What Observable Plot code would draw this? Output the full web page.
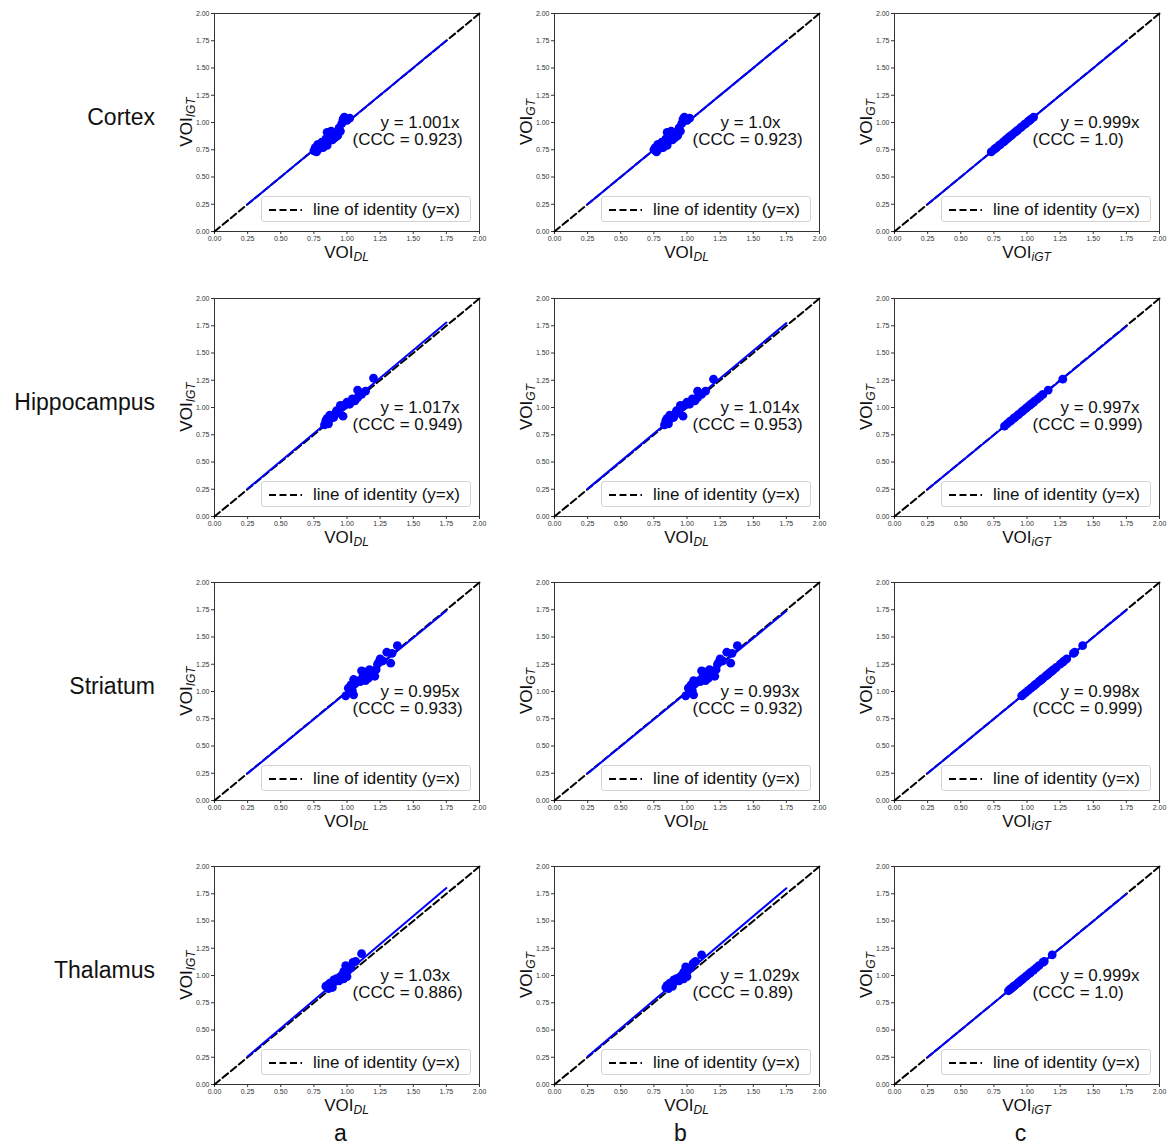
<!DOCTYPE html>
<html><head><meta charset="utf-8">
<script src="https://cdn.jsdelivr.net/npm/d3@7"></script>
<script src="https://cdn.jsdelivr.net/npm/@observablehq/plot@0.6"></script>
<style>
body{margin:0;background:#fff;}
#fig{position:relative;width:1176px;height:1148px;font-family:"Liberation Sans",Arial,Helvetica,sans-serif;color:#111;overflow:hidden;}
.lbl{position:absolute;white-space:nowrap;line-height:1;}
.ax{font-size:17px;}
.ax sub{font-size:12px;font-style:italic;vertical-align:-0.3em;line-height:0;}
.panel{position:absolute;}
.legend{position:absolute;box-sizing:border-box;border:1px solid #d4d4d4;border-radius:3px;background:rgba(255,255,255,0.8);font-size:17px;}
.legend svg{position:absolute;left:0;top:0;}
.legend span{position:absolute;left:51px;top:3px;white-space:nowrap;}
</style></head><body><div id="fig"></div>
<script>
// ---- data ----
const regions = ["Cortex", "Hippocampus", "Striatum", "Thalamus"];
const columns = ["a", "b", "c"];
const xSubs = ["DL", "DL", "iGT"];
const ySubs = ["IGT", "GT", "GT"];
const slopeLabels = [
  ["1.001", "1.0", "0.999"],
  ["1.017", "1.014", "0.997"],
  ["0.995", "0.993", "0.998"],
  ["1.03", "1.029", "0.999"]
];
const cccLabels = [
  ["0.923", "0.923", "1.0"],
  ["0.949", "0.953", "0.999"],
  ["0.933", "0.932", "0.999"],
  ["0.886", "0.89", "1.0"]
];
const axisTicks = [0, 0.25, 0.5, 0.75, 1, 1.25, 1.5, 1.75, 2];
const identityRange = [0, 2];
const fitRange = [0.25, 1.75];
const legendLabel = "line of identity (y=x)";

const cortexA = [[0.75,0.74],[0.76,0.77],[0.77,0.73],[0.78,0.80],[0.79,0.76],[0.81,0.82],[0.82,0.77],[0.83,0.80],[0.84,0.85],[0.85,0.79],[0.85,0.91],[0.86,0.83],[0.87,0.87],[0.88,0.92],[0.89,0.84],[0.90,0.89],[0.91,0.86],[0.92,0.91],[0.93,0.88],[0.94,0.95],[0.95,0.92],[0.96,0.99],[0.97,1.03],[0.98,1.05],[1.00,1.02],[1.02,1.04],[0.87,0.91],[0.81,0.79]];
const cortexB = [[0.75,0.75],[0.76,0.77],[0.77,0.73],[0.78,0.80],[0.79,0.76],[0.81,0.82],[0.82,0.77],[0.83,0.81],[0.84,0.85],[0.85,0.79],[0.85,0.91],[0.86,0.83],[0.87,0.87],[0.88,0.92],[0.89,0.84],[0.90,0.89],[0.91,0.86],[0.92,0.91],[0.93,0.88],[0.94,0.95],[0.95,0.92],[0.96,0.99],[0.97,1.03],[0.98,1.05],[1.00,1.02],[1.02,1.04],[0.87,0.91],[0.81,0.79]];
const cortexC = [[0.73,0.73],[0.75,0.75],[0.76,0.76],[0.77,0.77],[0.79,0.79],[0.80,0.80],[0.82,0.82],[0.83,0.83],[0.84,0.84],[0.85,0.85],[0.86,0.86],[0.87,0.87],[0.88,0.88],[0.89,0.89],[0.91,0.91],[0.92,0.92],[0.93,0.93],[0.95,0.95],[0.96,0.96],[0.98,0.98],[0.99,0.99],[1.01,1.01],[1.02,1.02],[1.03,1.03],[1.05,1.05]];
const hippoA = [[0.83,0.84],[0.84,0.86],[0.84,0.88],[0.85,0.90],[0.86,0.85],[0.86,0.89],[0.87,0.93],[0.88,0.90],[0.89,0.92],[0.90,0.91],[0.91,0.94],[0.92,0.97],[0.93,0.95],[0.95,0.99],[0.95,1.02],[0.97,0.92],[0.98,1.02],[0.99,1.03],[1.00,1.05],[1.02,1.03],[1.04,1.08],[1.06,1.06],[1.08,1.09],[1.08,1.16],[1.11,1.12],[1.14,1.15],[1.20,1.27]];
const hippoB = [[0.83,0.84],[0.84,0.86],[0.84,0.88],[0.85,0.90],[0.86,0.85],[0.86,0.89],[0.87,0.93],[0.88,0.90],[0.89,0.92],[0.90,0.91],[0.91,0.94],[0.92,0.97],[0.93,0.95],[0.95,0.99],[0.95,1.02],[0.97,0.92],[0.98,1.02],[0.99,1.03],[1.00,1.05],[1.02,1.03],[1.04,1.08],[1.06,1.06],[1.08,1.09],[1.08,1.15],[1.11,1.12],[1.14,1.15],[1.20,1.26]];
const hippoC = [[0.83,0.83],[0.85,0.85],[0.87,0.87],[0.88,0.88],[0.90,0.90],[0.91,0.91],[0.93,0.93],[0.94,0.94],[0.96,0.96],[0.97,0.97],[0.99,0.99],[1.00,1.00],[1.02,1.02],[1.03,1.03],[1.04,1.04],[1.05,1.05],[1.06,1.06],[1.08,1.08],[1.10,1.10],[1.12,1.12],[1.16,1.16],[1.27,1.26]];
const striatA = [[0.99,0.96],[1.01,1.03],[1.03,1.06],[1.04,1.01],[1.05,0.97],[1.05,1.11],[1.06,1.07],[1.09,1.10],[1.10,1.09],[1.11,1.19],[1.12,1.14],[1.13,1.18],[1.14,1.10],[1.15,1.16],[1.16,1.12],[1.17,1.20],[1.18,1.14],[1.20,1.18],[1.21,1.14],[1.22,1.20],[1.23,1.25],[1.24,1.27],[1.25,1.30],[1.27,1.28],[1.30,1.36],[1.33,1.26],[1.34,1.35],[1.38,1.42]];
const striatB = [[0.99,0.96],[1.01,1.03],[1.03,1.06],[1.04,1.01],[1.05,0.97],[1.05,1.10],[1.06,1.07],[1.09,1.10],[1.10,1.09],[1.11,1.19],[1.12,1.14],[1.13,1.18],[1.14,1.10],[1.15,1.16],[1.16,1.12],[1.17,1.20],[1.18,1.14],[1.20,1.18],[1.21,1.14],[1.22,1.20],[1.23,1.25],[1.24,1.27],[1.25,1.30],[1.27,1.28],[1.30,1.36],[1.33,1.26],[1.34,1.35],[1.38,1.42]];
const striatC = [[0.96,0.96],[0.97,0.97],[0.99,0.99],[1.01,1.01],[1.03,1.03],[1.05,1.05],[1.06,1.06],[1.07,1.07],[1.09,1.09],[1.10,1.10],[1.11,1.11],[1.12,1.12],[1.14,1.14],[1.15,1.15],[1.16,1.16],[1.17,1.17],[1.18,1.18],[1.19,1.19],[1.20,1.20],[1.22,1.22],[1.25,1.25],[1.27,1.27],[1.28,1.28],[1.30,1.30],[1.35,1.35],[1.36,1.36],[1.42,1.42]];
const thalA = [[0.84,0.90],[0.85,0.91],[0.86,0.88],[0.87,0.93],[0.89,0.89],[0.90,0.96],[0.91,0.945],[0.92,0.97],[0.94,0.95],[0.95,0.99],[0.96,1.00],[0.975,0.97],[0.975,1.035],[0.99,1.09],[1.00,0.99],[1.01,1.05],[1.03,1.07],[1.045,1.12],[1.065,1.13],[1.11,1.20]];
const thalB = [[0.84,0.89],[0.85,0.91],[0.86,0.88],[0.87,0.93],[0.89,0.90],[0.90,0.96],[0.91,0.945],[0.92,0.97],[0.94,0.95],[0.95,0.99],[0.96,1.00],[0.975,0.97],[0.975,1.03],[0.99,1.08],[1.00,0.99],[1.01,1.05],[1.03,1.07],[1.045,1.11],[1.065,1.13],[1.11,1.19]];
const thalC = [[0.86,0.86],[0.87,0.87],[0.88,0.88],[0.89,0.89],[0.90,0.90],[0.91,0.91],[0.93,0.93],[0.94,0.94],[0.95,0.95],[0.96,0.96],[0.97,0.97],[0.99,0.99],[1.00,1.00],[1.02,1.02],[1.03,1.03],[1.05,1.05],[1.07,1.07],[1.09,1.09],[1.12,1.12],[1.13,1.13],[1.19,1.19]];

const panelPoints = [
  [cortexA, cortexB, cortexC],
  [hippoA, hippoB, hippoC],
  [striatA, striatB, striatC],
  [thalA, thalB, thalC]
];

// ---- layout ----
const colLeft = [214, 554, 894];
const rowTop = [13, 298, 582, 866];
const plotW = 265, plotH = 218;
const mL = 34, mR = 12, mT = 8, mB = 16;
const BLUE = "#0000ff";
const FONT = '"Liberation Sans", Arial, Helvetica, sans-serif';

const fig = document.getElementById("fig");
function addLabel(html, cls, style) {
  const d = document.createElement("div");
  d.className = "lbl " + (cls || "");
  d.innerHTML = html;
  Object.assign(d.style, style);
  fig.appendChild(d);
  return d;
}

regions.forEach((region, r) => {
  columns.forEach((col, c) => {
    const pts = panelPoints[r][c];
    const slope = +slopeLabels[r][c];
    const identity = identityRange.map(v => ({x: v, y: v}));
    const fit = fitRange.map(v => ({x: v, y: slope * v}));
    const chart = Plot.plot({
      width: plotW + mL + mR,
      height: plotH + mT + mB,
      marginLeft: mL, marginRight: mR, marginTop: mT, marginBottom: mB,
      x: {domain: [0, 2], ticks: axisTicks, tickFormat: d3.format(".2f"), label: null, tickSize: 3, tickPadding: 2},
      y: {domain: [0, 2], ticks: axisTicks, tickFormat: d3.format(".2f"), label: null, tickSize: 3, tickPadding: 2},
      style: {fontSize: "7px", fontFamily: FONT, color: "#333", background: "transparent", overflow: "visible"},
      marks: [
        Plot.frame({stroke: "#333", strokeWidth: 1}),
        Plot.line(identity, {x: "x", y: "y", stroke: "black", strokeWidth: 2, strokeDasharray: "7,3.5"}),
        Plot.line(fit, {x: "x", y: "y", stroke: BLUE, strokeWidth: 2}),
        Plot.dot(pts, {x: d => d[0], y: d => d[1], r: 4.4, fill: BLUE, stroke: "none"}),
        Plot.text([`y = ${slopeLabels[r][c]}x`], {frameAnchor: "top-left", dx: 166, dy: 109, text: d => d, fontSize: 17, textAnchor: "start", lineAnchor: "middle", fill: "#111"}),
        Plot.text([`(CCC = ${cccLabels[r][c]})`], {frameAnchor: "top-left", dx: 138, dy: 126, text: d => d, fontSize: 17, textAnchor: "start", lineAnchor: "middle", fill: "#111"})
      ]
    });
    chart.classList.add("panel");
    chart.style.left = (colLeft[c] - mL) + "px";
    chart.style.top = (rowTop[r] - mT) + "px";
    fig.appendChild(chart);

    // legend
    const lg = document.createElement("div");
    lg.className = "legend";
    Object.assign(lg.style, {left: (colLeft[c] + 47) + "px", top: (rowTop[r] + 183) + "px", width: "210px", height: "26px"});
    lg.innerHTML = `<svg width="46" height="26"><line x1="7" x2="40" y1="13" y2="13" stroke="black" stroke-width="2" stroke-dasharray="7,3.5"/></svg><span>${legendLabel}</span>`;
    fig.appendChild(lg);

    // axis labels
    addLabel(`VOI<sub>${xSubs[c]}</sub>`, "ax", {left: (colLeft[c] + plotW / 2) + "px", top: (rowTop[r] + plotH + 21) + "px", transform: "translate(-50%,-50%)"});
    addLabel(`VOI<sub>${ySubs[c]}</sub>`, "ax", {left: (colLeft[c] - 28) + "px", top: (rowTop[r] + plotH / 2) + "px", transform: "translate(-50%,-50%) rotate(-90deg)"});
  });
  addLabel(region, "", {right: (1176 - 155) + "px", top: (rowTop[r] + plotH / 2 - 5) + "px", transform: "translateY(-50%)", fontSize: "23px"});
});
columns.forEach((col, c) => {
  addLabel(col, "", {left: (colLeft[c] + plotW / 2 - 6) + "px", top: "1133px", transform: "translate(-50%,-50%)", fontSize: "23px"});
});
</script></body></html>
